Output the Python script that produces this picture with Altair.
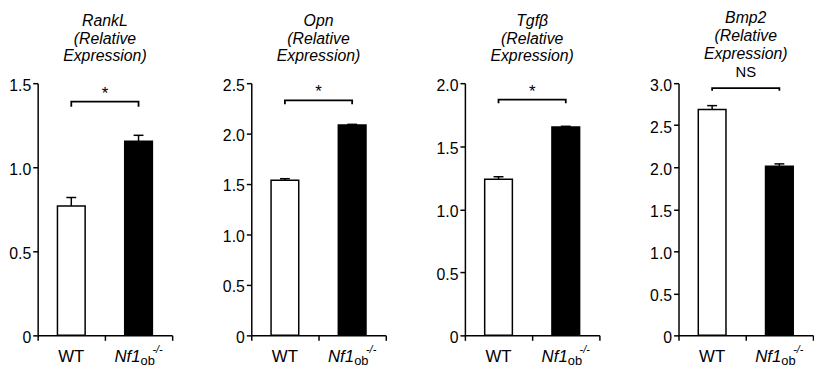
import altair as alt
import pandas as pd

FONT = "Liberation Sans"

genes = ["RankL", "Opn", "Tgfβ", "Bmp2"]
groups = ["WT", "Nf1"]
means = [[0.77, 1.155], [1.537, 2.086], [1.238, 1.653], [2.686, 2.013]]
sems = [[0.05, 0.035], [0.016, 0.006], [0.02, 0.005], [0.047, 0.027]]
ymax = [1.5, 2.5, 2.0, 3.0]
yticks = [
    [0, 0.5, 1.0, 1.5],
    [0, 0.5, 1.0, 1.5, 2.0, 2.5],
    [0, 0.5, 1.0, 1.5, 2.0],
    [0, 0.5, 1.0, 1.5, 2.0, 2.5, 3.0],
]
sig_labels = ["*", "*", "*", "NS"]
bracket_y = [1.39, 2.33, 1.87, 2.94]
bracket_drop = [0.03, 0.04, 0.03, 0.03]

W = 136
H = 255


def panel(i):
    df = pd.DataFrame({
        "group": groups,
        "mean": means[i],
        "err": [m + s for m, s in zip(means[i], sems[i])],
    })
    xscale = alt.Scale(domain=groups, paddingInner=0, paddingOuter=0)
    yscale = alt.Scale(domain=[0, ymax[i]], nice=False, zero=True)

    def xenc(**kw):
        return alt.X("group:N", scale=xscale, title=None, **kw)

    def yenc(field, **kw):
        return alt.Y(field, scale=yscale, title=None, **kw)

    bars = alt.Chart(df).mark_bar(size=28, stroke="black", strokeWidth=1.5).encode(
        x=xenc(),
        y=yenc("mean:Q", axis=alt.Axis(values=yticks[i])),
        color=alt.Color("group:N", scale=alt.Scale(domain=groups, range=["white", "black"]), legend=None),
    )
    stem = alt.Chart(df).mark_rule(color="black", strokeWidth=1.5).encode(
        x=xenc(),
        y=yenc("mean:Q"),
        y2="err:Q",
    )
    cap = alt.Chart(df).mark_tick(color="black", size=10, thickness=1.5, opacity=1).encode(
        x=xenc(),
        y=yenc("err:Q"),
    )

    b = bracket_y[i]
    d = bracket_drop[i]
    br_df = pd.DataFrame({
        "group": ["WT", "WT", "Nf1", "Nf1"],
        "y": [b - d, b, b, b - d],
        "ord": [0, 1, 2, 3],
    })
    bracket = alt.Chart(br_df).mark_line(color="black", strokeWidth=1.8).encode(
        x=xenc(),
        y=yenc("y:Q"),
        order="ord:Q",
    )
    sig_df = pd.DataFrame({"group": ["Nf1"], "y": [b], "label": [sig_labels[i]]})
    is_ns = sig_labels[i] == "NS"
    sig = alt.Chart(sig_df).mark_text(
        font=FONT, fontSize=15 if is_ns else 17, baseline="alphabetic",
        dy=-11 if is_ns else -3, color="black",
    ).encode(
        x=alt.X("group:N", scale=xscale, title=None, bandPosition=0),
        y=yenc("y:Q"),
        text="label:N",
    )

    lab_df = pd.DataFrame({"group": groups, "main": ["WT", "Nf1"]})
    ly = H + 22
    wt_lab = alt.Chart(lab_df[lab_df.group == "WT"]).mark_text(
        font=FONT, fontSize=17, baseline="middle", align="center", color="black"
    ).encode(x=xenc(), y=alt.value(ly), text="main:N")
    nf_lab = alt.Chart(lab_df[lab_df.group == "Nf1"]).mark_text(
        font=FONT, fontSize=17, fontStyle="italic", baseline="middle", align="right", dx=2, color="black"
    ).encode(x=xenc(), y=alt.value(ly), text="main:N")
    sub_df = pd.DataFrame({"group": ["Nf1"], "sub": ["ob"], "sup": ["-/-"]})
    sub_lab = alt.Chart(sub_df).mark_text(
        font=FONT, fontSize=13, baseline="middle", align="left", dx=2, dy=4, color="black"
    ).encode(x=xenc(), y=alt.value(ly), text="sub:N")
    sup_lab = alt.Chart(sub_df).mark_text(
        font=FONT, fontSize=11, fontStyle="italic", baseline="middle", align="left", dx=14, dy=-7, color="black"
    ).encode(x=xenc(), y=alt.value(ly), text="sup:N")

    return alt.layer(bars, stem, cap, bracket, sig, wt_lab, nf_lab, sub_lab, sup_lab).properties(
        width=W, height=H,
        title=alt.TitleParams(
            text=[genes[i], "(Relative", "Expression)"],
            font=FONT, fontSize=16, fontStyle="italic", fontWeight="normal",
            lineHeight=18, anchor="middle", frame="group",
            offset=4 if is_ns else 13, color="black",
        ),
    )


chart = alt.hconcat(*[panel(i) for i in range(4)], spacing=49).properties(
    padding=0
).configure_view(stroke=None).configure_axis(
    domainColor="black", domainWidth=1.5, tickColor="black", tickWidth=1.5,
    tickSize=5, labelFont=FONT, labelFontSize=16, labelColor="black",
    grid=False, labelPadding=2,
).configure_axisX(
    labels=False, tickBand="extent",
).configure_axisY(
    labelExpr="datum.value == 0 ? '0' : format(datum.value, '.1f')",
    labelOffset=2,
)

chart.save("out.html", embed_options={"renderer": "svg", "actions": False})
